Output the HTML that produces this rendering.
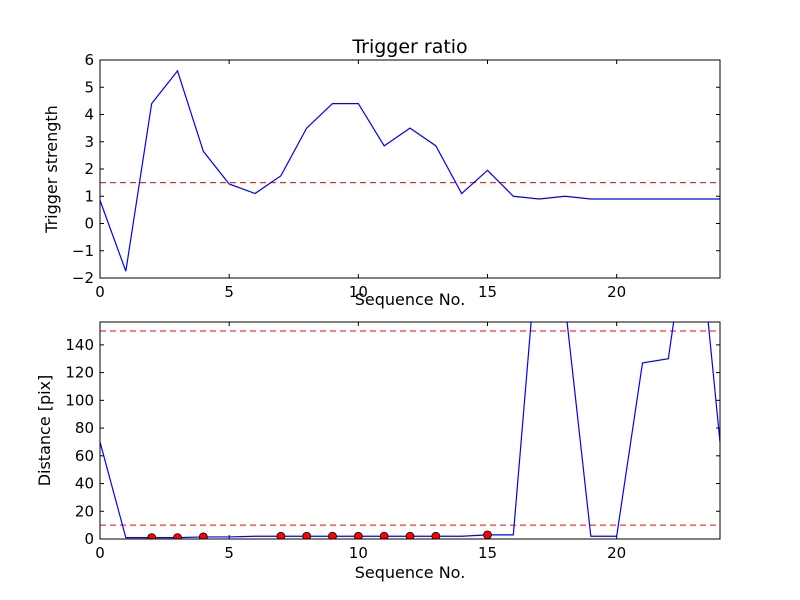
<!DOCTYPE html>
<html><head><meta charset="utf-8"><style>
html,body{margin:0;padding:0;background:#fff;}
svg{display:block;font-family:"DejaVu Sans","Liberation Sans",sans-serif;}
</style></head><body>
<svg id="c" width="800" height="600">
<defs>
<clipPath id="cp1"><rect x="100" y="60" width="620" height="218"/></clipPath>
<clipPath id="cp2"><rect x="100" y="322" width="620" height="217"/></clipPath>
</defs>
<rect width="800" height="600" fill="#fff"/>
<g id="top"></g>
<g id="bot"></g>
</svg>
<script>
const seq = [0,1,2,3,4,5,6,7,8,9,10,11,12,13,14,15,16,17,18,19,20,21,22,23,24];
const strength = [0.85,-1.75,4.4,5.6,2.65,1.45,1.1,1.75,3.5,4.4,4.4,2.85,3.5,2.85,1.1,1.95,1.0,0.9,1.0,0.9,0.9,0.9,0.9,0.9,0.9];
const strengthThreshold = [1.5];
const distance = [70,1,1,1,1.5,1.5,2,2,2,2,2,2,2,2,2,3,3,226,170,2,2,127,130,259,70];
const distThresholds = [10,150];
const triggeredIdx = [2,3,4,7,8,9,10,11,12,13,15];
const topYTicks = [-2,-1,0,1,2,3,4,5,6];
const botYTicks = [0,20,40,60,80,100,120,140];
const xTicks = [0,5,10,15,20];

const NS="http://www.w3.org/2000/svg";
function mk(p,t,a){const e=document.createElementNS(NS,t);for(const k in a)e.setAttribute(k,a[k]);p.appendChild(e);return e;}
const X0=100,X1=720,xmin=0,xmax=24;
const sx=v=>X0+(v-xmin)/(xmax-xmin)*(X1-X0);

function panel(g,top,bot,ymin,ymax,yticks,ylabel,clip){
  const sy=v=>bot-(v-ymin)/(ymax-ymin)*(bot-top);
  for(const t of xTicks){
    const x=sx(t);
    const tk=mk(g,'line',{x1:x,x2:x,y1:bot,y2:bot-4,stroke:'#000'});
    
    
    mk(g,'line',{x1:x,x2:x,y1:top,y2:top+4,stroke:'#000'});
    const tx=mk(g,'text',{x:x,y:bot+19,'text-anchor':'middle','font-size':15});
    tx.textContent=t;
    
    
  }
  for(const t of yticks){
    const y=sy(t);
    const tk=mk(g,'line',{x1:X0,x2:X0+4,y1:y,y2:y,stroke:'#000'});
    
    
    mk(g,'line',{x1:X1,x2:X1-4,y1:y,y2:y,stroke:'#000'});
    const tx=mk(g,'text',{x:X0-6,y:y+5,'text-anchor':'end','font-size':15});
    tx.textContent=t<0?'\u2212'+(-t):t;
    
    
  }
  const xl=mk(g,'text',{x:410,y:bot+27+(top<100?0:12),'text-anchor':'middle','font-size':16});
  xl.textContent='Sequence No.';
  
  
  const cy=(top+bot)/2;
  const yl=mk(g,'text',{x:0,y:0,'text-anchor':'middle','font-size':16,transform:`translate(${top<100?57:50},${cy}) rotate(-90)`});
  yl.textContent=ylabel;
  
  
  return sy;
}

const gt=document.getElementById('top');
const syT=panel(gt,60,278,-2,6,topYTicks,'Trigger strength','cp1');
const tt=mk(gt,'text',{x:410,y:53,'text-anchor':'middle','font-size':19});
tt.textContent='Trigger ratio';


const gtc=mk(gt,'g',{'clip-path':'url(#cp1)'});
for(const v of strengthThreshold){
  const l=mk(gtc,'line',{x1:X0,x2:X1,y1:syT(v),y2:syT(v),stroke:'#f00','stroke-dasharray':'6,4'});
  
  
}
const pT=mk(gtc,'polyline',{points:seq.map((s,i)=>sx(s)+','+syT(strength[i])).join(' '),fill:'none',stroke:'#00f','stroke-width':1.2});


const fr1=mk(gt,'rect',{x:X0,y:60,width:X1-X0,height:218,fill:'none',stroke:'#000'});



const gb=document.getElementById('bot');
const syB=panel(gb,322,539,0,156.5,botYTicks,'Distance [pix]','cp2');
const gbc=mk(gb,'g',{'clip-path':'url(#cp2)'});
for(const v of distThresholds){
  const l=mk(gbc,'line',{x1:X0,x2:X1,y1:syB(v),y2:syB(v),stroke:'#f00','stroke-dasharray':'6,4'});
  
  
}
const pB=mk(gbc,'polyline',{points:seq.map((s,i)=>sx(s)+','+syB(distance[i])).join(' '),fill:'none',stroke:'#00f','stroke-width':1.2});


for(const i of triggeredIdx){
  const c=mk(gbc,'circle',{cx:sx(seq[i]),cy:syB(distance[i]),r:4,fill:'#f00',stroke:'#000','stroke-width':0.8});
  
  
}
const fr2=mk(gb,'rect',{x:X0,y:322,width:X1-X0,height:217,fill:'none',stroke:'#000'});


</script>
</body></html>
